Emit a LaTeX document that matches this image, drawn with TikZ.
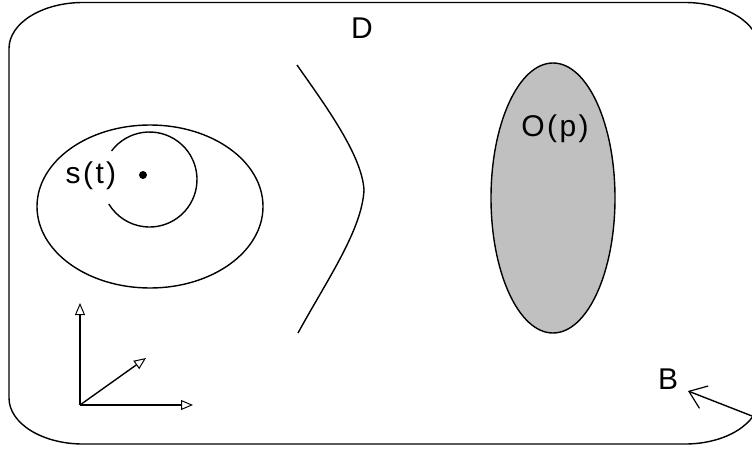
\documentclass[tikz,border=0pt]{standalone}
\usepackage{fontspec}
\setmainfont{Liberation Sans}[LetterSpace=8]
\usetikzlibrary{arrows.meta,shapes.geometric,calc}
\begin{document}
\begin{tikzpicture}[x=1pt,y=1pt,
  lbl/.style={inner sep=0pt,font=\fontsize{30}{33}\selectfont},
  ln/.style={line width=1.4pt,black},
  axis/.style={ln,-{Triangle[open,length=12pt,width=10pt,line width=1pt]}},
  barb/.style={ln,-{Straight Barb[length=16pt,width=24pt,line width=1.2pt]}},
  ell/.style={ellipse,draw,ln,inner sep=0pt}]
\useasboundingbox (0,0) rectangle (752,451);
\clip (0,0) rectangle (752,451);
% domain border with elliptical corners
\draw[ln] (83,448.5) -- (685,448.5)
  arc[start angle=90,end angle=0,x radius=74,y radius=46] -- (759,53)
  arc[start angle=0,end angle=-90,x radius=74,y radius=46] -- (83,7)
  arc[start angle=270,end angle=180,x radius=74,y radius=46] -- (9,402.5)
  arc[start angle=180,end angle=90,x radius=74,y radius=46];
\node[lbl] (D) at (362,423) {D};
% level sets around s(t)
\node[ell,minimum width=226pt,minimum height=163pt] (outer) at (150,244.5) {};
\coordinate (cin) at (149.5,271.5);
\draw[ln] ($(cin)+(143:47.5)$) arc[start angle=143,end angle=-149,radius=47.5];
\fill (143,276) circle (4pt) coordinate (dot);
\node[lbl] (st) at (91,275) {s(t)};
% curve
\draw[ln] (297,386) .. controls (325,346) and (362,296) .. (364,261)
  .. controls (362,221) and (327,171) .. (298,118);
% obstacle
\node[ell,fill={rgb,255:red,192;green,192;blue,192},minimum width=124pt,minimum height=270pt] (obs) at (553,253) {};
\node[lbl] (Op) at (555,322) {O(p)};
% axes
\coordinate (o) at (80,46);
\coordinate (ay) at (80,148);
\coordinate (ax) at (193,46);
\coordinate (az) at (146,93);
\draw[axis] (o) -- (ay);
\draw[axis] (o) -- (ax);
\draw[axis] (o) -- (az);
% boundary label
\node[lbl] (B) at (668,72) {B};
\coordinate (btail) at (752,35);
\coordinate (btip) at (688,60);
\draw[barb] (btail) -- (btip);
\end{tikzpicture}
\end{document}
